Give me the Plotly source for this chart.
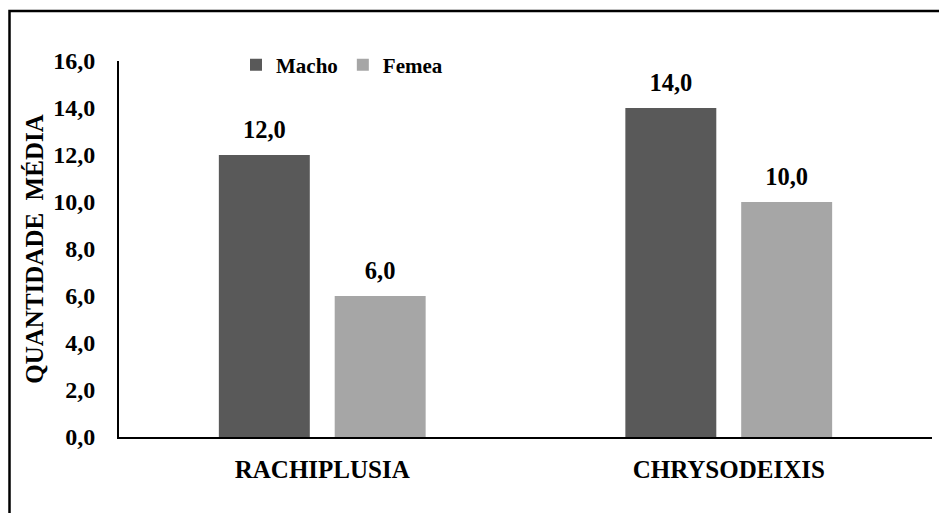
import plotly.graph_objects as go

categories = ["RACHIPLUSIA", "CHRYSODEIXIS"]
macho = [12.0, 14.0]
femea = [6.0, 10.0]
series_names = ["Macho", "Femea"]
y_ticks = [0, 2, 4, 6, 8, 10, 12, 14, 16]

FONT = "Liberation Serif"
colors = ["#595959", "#A6A6A6"]


def f(size):
    return dict(family=FONT, size=size, color="black", weight="bold")


fig = go.Figure()
for name, vals, col in zip(series_names, [macho, femea], colors):
    fig.add_trace(go.Bar(
        x=categories, y=vals, name=name, marker_color=col,
        marker_line_width=0, offsetgroup=name,
    ))
for name, vals in zip(series_names, [macho, femea]):
    fig.add_trace(go.Scatter(
        x=categories, y=vals, mode="markers+text", offsetgroup=name,
        text=[f"{v:.1f}".replace(".", ",") for v in vals],
        textposition="top center",
        marker=dict(size=16, color="rgba(0,0,0,0)"),
        textfont=f(24.5),
        showlegend=False, hoverinfo="skip", cliponaxis=False,
    ))

# page body has an 8px margin; figure sized to fill the rest of the window
O = 8
W, H = 947 - O, 513 - O
L, T = 119 - O, 61 - O
R, B = W - (932 - O), H - (437 - O)
pw, ph = W - L - R, H - T - B

fig.update_layout(
    width=W, height=H,
    margin=dict(l=L, r=R, t=T, b=B),
    paper_bgcolor="white", plot_bgcolor="white",
    barmode="group", bargap=0.43, bargroupgap=0.215,
    scattermode="group", scattergap=0.43,
    separators=",.",
    font=f(22),
    legend=dict(
        orientation="h", x=(236 - O - L) / pw, xanchor="left",
        y=(H - B - (65 - O)) / ph, yanchor="middle",
        font=f(21),
        bgcolor="rgba(0,0,0,0)", itemwidth=30, tracegroupgap=0,
    ),
    showlegend=True,
)
fig.update_xaxes(
    showline=True, linecolor="black", linewidth=2,
    showgrid=False, ticks="", ticklabelstandoff=9,
    tickfont=f(25),
)
fig.update_yaxes(
    range=[0, 16], tickvals=y_ticks, tickformat=".1f",
    showline=True, linecolor="black", linewidth=2,
    showgrid=False, zeroline=False, ticks="", ticklabelstandoff=17,
    tickfont=f(24),
    title=dict(text="QUANTIDADE\u00a0\u00a0MÉDIA", standoff=2, font=f(25)),
)

fig.add_shape(
    type="rect", xref="paper", yref="paper",
    x0=(1.5 - L) / pw, x1=(W + 20 - L) / pw,
    y0=(H - B - (H + 20)) / ph, y1=(H - B - 3) / ph,
    line=dict(color="black", width=2.5), fillcolor="rgba(0,0,0,0)", layer="above",
)

fig.write_html("out.html")
